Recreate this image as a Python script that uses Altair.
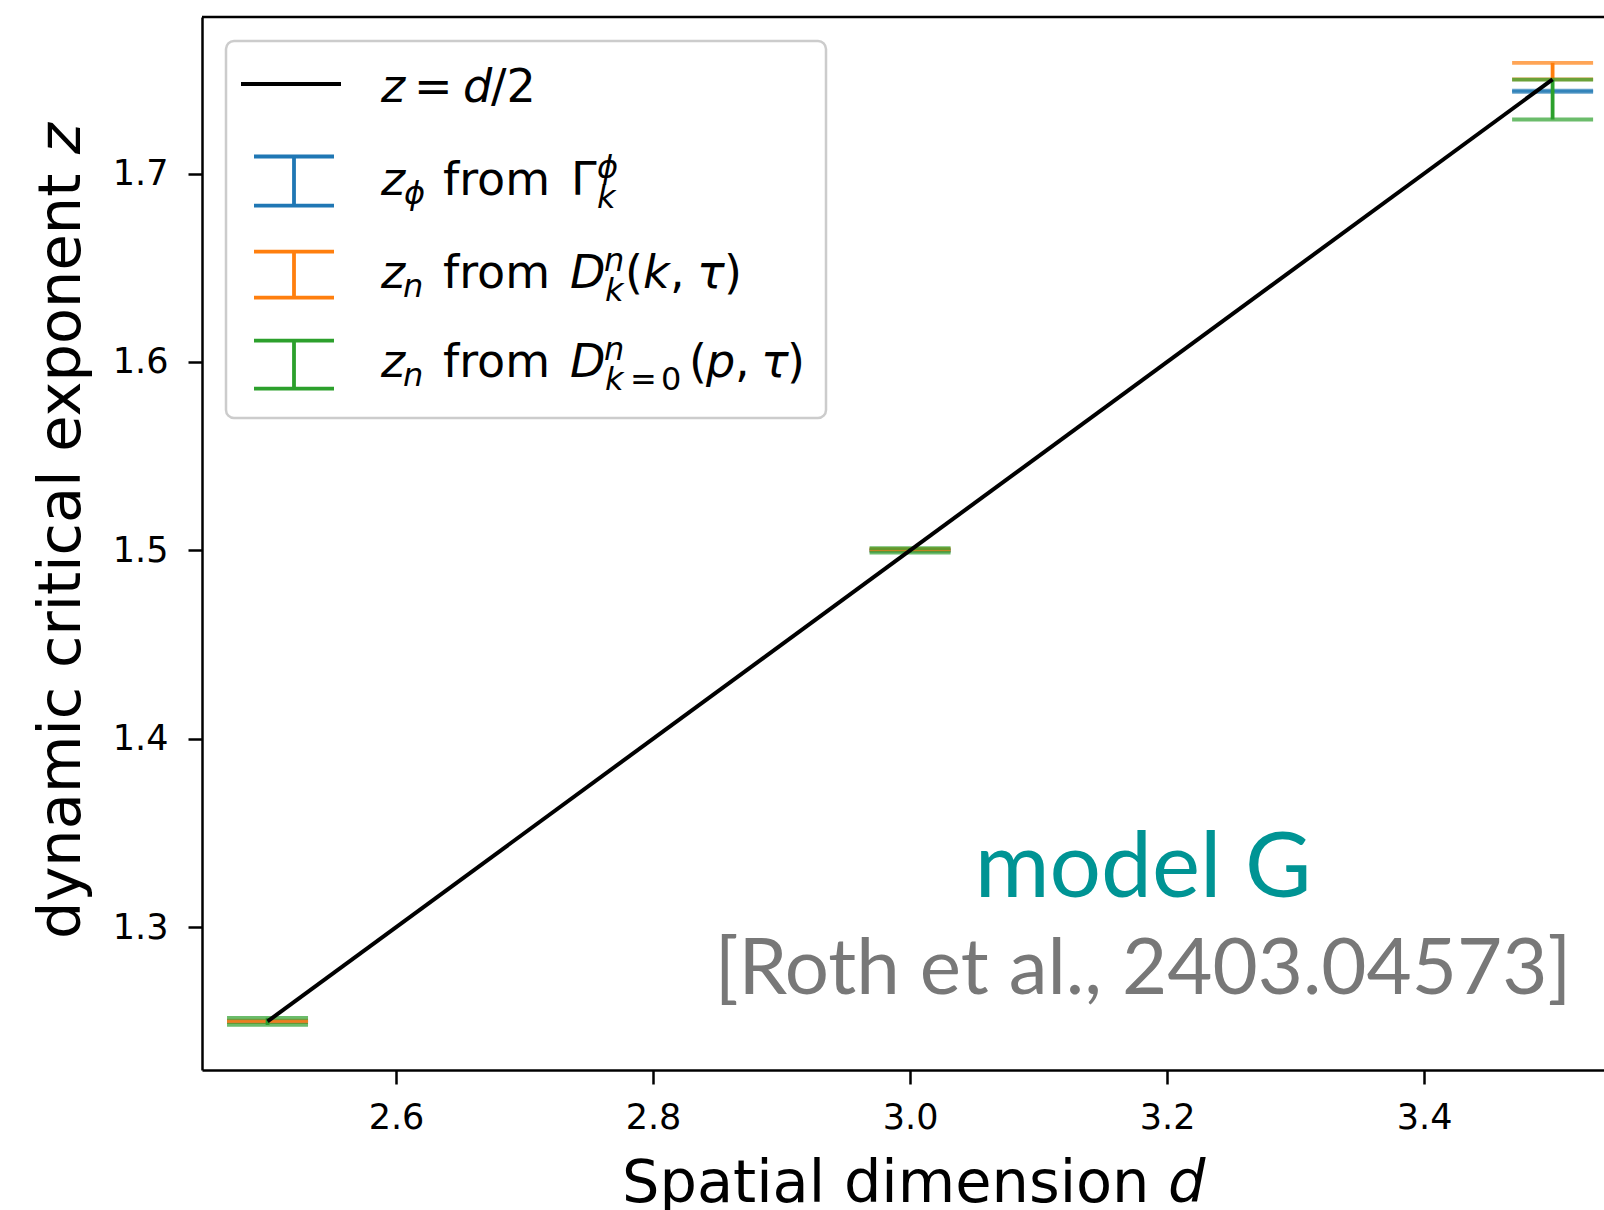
import altair as alt
import pandas as pd

# ---------------- data ----------------
d_line = [2.5, 3.5]
z_line = [1.25, 1.75]

d_points = [2.5, 3.0, 3.5]
series_colors = ["#1f77b4", "#ff7f0e", "#2ca02c"]
z_phi = [1.2500, 1.5000, 1.7437]
z_phi_err = [0.0003, 0.0003, 0.0003]
z_n_k = [1.2500, 1.5004, 1.7544]
z_n_k_err = [0.0004, 0.0004, 0.0044]
z_n_p = [1.2500, 1.5000, 1.7393]
z_n_p_err = [0.0019, 0.0012, 0.0106]

x_ticks = [2.6, 2.8, 3.0, 3.2, 3.4]
y_ticks = [1.3, 1.4, 1.5, 1.6, 1.7]
x_domain = [2.449, 3.540]
y_domain = [1.2242, 1.7831]

x_title = ["Spatial dimension", "d"]
y_title = ["dynamic critical exponent", "z"]
annot_model = "model G"
annot_ref = "[Roth et al., 2403.04573]"

# ---------------- layout ----------------
OX, OY = 202, 17
W, H = 1402, 1053
MAIN, SUB = 46, 32
EW = 3.8   # errorbar stroke


def px(v):
    return v - OX


def py(v):
    return v - OY


xs = alt.Scale(domain=x_domain, nice=False, zero=False)
ys = alt.Scale(domain=y_domain, nice=False, zero=False)
xaxis = alt.Axis(values=x_ticks, format=".1f", title=None, grid=False)
yaxis = alt.Axis(values=y_ticks, format=".1f", title=None, grid=False)

layers = []
for vals, errs, col in [(z_phi, z_phi_err, series_colors[0]),
                        (z_n_k, z_n_k_err, series_colors[1]),
                        (z_n_p, z_n_p_err, series_colors[2])]:
    df = pd.DataFrame({"d": d_points, "z": vals, "err": errs})
    df["lo"] = df["z"] - df["err"]
    df["hi"] = df["z"] + df["err"]
    base = alt.Chart(df)
    layers.append(base.mark_rule(color=col, strokeWidth=EW).encode(
        x=alt.X("d:Q", scale=xs, axis=xaxis),
        y=alt.Y("lo:Q", scale=ys, axis=yaxis),
        y2="hi:Q"))
    layers.append(base.transform_fold(["lo", "hi"], as_=["which", "zc"]).mark_tick(
        orient="horizontal", size=81, thickness=EW, color=col).encode(
        x=alt.X("d:Q", scale=xs, axis=xaxis),
        y=alt.Y("zc:Q", scale=ys, axis=yaxis)))

line_df = pd.DataFrame({"d": d_line, "z": z_line})
layers.append(alt.Chart(line_df).mark_line(color="black", strokeWidth=4).encode(
    x=alt.X("d:Q", scale=xs, axis=xaxis),
    y=alt.Y("z:Q", scale=ys, axis=yaxis)))

dummy = pd.DataFrame({"a": [0]})

# top spine
layers.append(alt.Chart(dummy).mark_rule(color="black", strokeWidth=2.5).encode(
    x=alt.value(0), x2=alt.value(W), y=alt.value(0)))

# legend box
layers.append(alt.Chart(dummy).mark_rect(
    fill="white", fillOpacity=0.85, stroke="#cccccc", strokeWidth=2.5, cornerRadius=8).encode(
    x=alt.value(px(226)), x2=alt.value(px(826)), y=alt.value(py(41)), y2=alt.value(py(418))))

# legend symbols
sym = []
sym.append((241, 341, 84, 84, "black", 4))
for (ytop, ybot), col in zip([(156.5, 205.6), (251.6, 297.7), (340.6, 388.7)], series_colors):
    sym.append((294, 294, ytop, ybot, col, EW))
    sym.append((254, 334, ytop, ytop, col, EW))
    sym.append((254, 334, ybot, ybot, col, EW))
sym_df = pd.DataFrame(sym, columns=["x", "x2", "y", "y2", "c", "w"])
for c in ["x", "x2"]:
    sym_df[c] = sym_df[c] - OX
for c in ["y", "y2"]:
    sym_df[c] = sym_df[c] - OY
layers.append(alt.Chart(sym_df).mark_rule().encode(
    x=alt.X("x:Q", scale=None, axis=None), x2="x2:Q",
    y=alt.Y("y:Q", scale=None, axis=None), y2="y2:Q",
    color=alt.Color("c:N", scale=None, legend=None),
    strokeWidth=alt.StrokeWidth("w:Q", scale=None, legend=None)))

# legend text pieces: (text, x, baseline y, size, italic)
r1, r2, r3, r4 = 102, 195, 288, 377
pieces = [
    ("z", 381, r1, MAIN, True), ("=", 414, r1, MAIN, False), ("d", 463, r1, MAIN, True), ("/2", 491, r1, MAIN, False),
    ("z", 381, r2, MAIN, True), ("ϕ", 404, r2 + 9, SUB, True), ("from", 443, r2, MAIN, False),
    ("Γ", 571, r2, MAIN, False), ("ϕ", 597, r2 - 17, SUB, True), ("k", 597, r2 + 13, SUB, True),
    ("z", 381, r3, MAIN, True), ("n", 403, r3 + 9, SUB, True), ("from", 443, r3, MAIN, False),
    ("D", 570, r3, MAIN, True), ("n", 604, r3 - 17, SUB, True), ("k", 605, r3 + 13, SUB, True),
    ("(", 625, r3, MAIN, False), ("k", 643, r3, MAIN, True), (",", 670, r3, MAIN, False),
    ("τ", 697, r3, MAIN, True), (")", 724, r3, MAIN, False),
    ("z", 381, r4, MAIN, True), ("n", 403, r4 + 9, SUB, True), ("from", 443, r4, MAIN, False),
    ("D", 570, r4, MAIN, True), ("n", 604, r4 - 17, SUB, True), ("k", 605, r4 + 13, SUB, True),
    ("=", 630, r4 + 13, SUB, False), ("0", 661, r4 + 13, SUB, False),
    ("(", 689, r4, MAIN, False), ("p", 706, r4, MAIN, True), (",", 735, r4, MAIN, False),
    ("τ", 761, r4, MAIN, True), (")", 787, r4, MAIN, False),
]
pdf = pd.DataFrame(pieces, columns=["t", "x", "y", "fs", "it"])
pdf["x"] = pdf["x"] - OX
pdf["y"] = pdf["y"] - OY
for it in [False, True]:
    sub = pdf[pdf["it"] == it].drop(columns=["it"])
    layers.append(alt.Chart(sub).mark_text(
        align="left", baseline="alphabetic", font="DejaVu Sans",
        fontStyle="italic" if it else "normal", color="black").encode(
        x=alt.X("x:Q", scale=None, axis=None),
        y=alt.Y("y:Q", scale=None, axis=None),
        text="t:N",
        size=alt.Size("fs:Q", scale=None, legend=None)))

# axis titles
layers.append(alt.Chart(dummy).mark_text(
    text=x_title[0], align="left", baseline="alphabetic", font="DejaVu Sans", fontSize=59,
    color="black").encode(x=alt.value(px(622)), y=alt.value(py(1202))))
layers.append(alt.Chart(dummy).mark_text(
    text=x_title[1], align="left", baseline="alphabetic", font="DejaVu Sans", fontSize=59,
    fontStyle="italic", color="black").encode(x=alt.value(px(1168)), y=alt.value(py(1202))))
layers.append(alt.Chart(dummy).mark_text(
    text=y_title[0], align="left", baseline="alphabetic", font="DejaVu Sans", fontSize=59,
    angle=270, color="black").encode(x=alt.value(px(80)), y=alt.value(py(939))))
layers.append(alt.Chart(dummy).mark_text(
    text=y_title[1], align="left", baseline="alphabetic", font="DejaVu Sans", fontSize=59,
    angle=270, fontStyle="italic", color="black").encode(x=alt.value(px(80)), y=alt.value(py(154))))

# annotations
layers.append(alt.Chart(dummy).mark_text(
    text=annot_model, align="center", baseline="alphabetic", font="Lato", fontSize=91,
    color="#009494").encode(x=alt.value(px(1143)), y=alt.value(py(897))))
layers.append(alt.Chart(dummy).mark_text(
    text=annot_ref, align="center", baseline="alphabetic", font="Lato", fontSize=78,
    color="#787878").encode(x=alt.value(px(1143)), y=alt.value(py(994))))

chart = alt.layer(*layers).properties(
    width=W, height=H,
    padding={"left": OX, "top": OY, "right": 0, "bottom": 1210 - OY - H},
    autosize=alt.AutoSizeParams(type="none"),
    background="white",
).configure_view(stroke=None).configure_axis(
    domainColor="black", domainWidth=2.5, tickColor="black", tickWidth=2.5, tickSize=14,
    labelFont="DejaVu Sans", labelFontSize=35, labelColor="black", grid=False
).configure_axisY(labelPadding=20).configure_axisX(labelPadding=16)

chart.save("out.html", embed_options={"renderer": "svg", "actions": False})
